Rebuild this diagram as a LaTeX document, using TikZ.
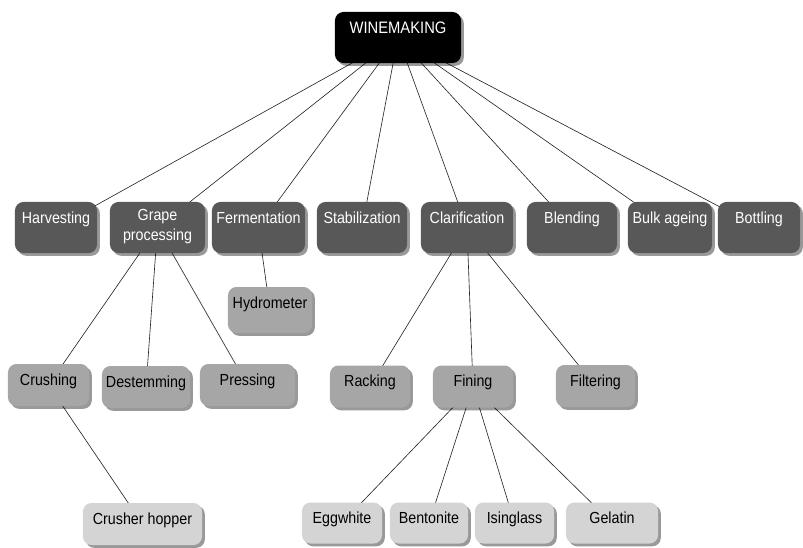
\documentclass[tikz,border=0pt]{standalone}
\usepackage{fontspec}
\setmainfont[FakeStretch=0.89]{Liberation Sans}
\usepackage{xcolor}
\usepackage{tikz}
\usetikzlibrary{shadows, backgrounds}

\definecolor{stagegray}{HTML}{585858}
\definecolor{stepgray}{HTML}{A6A6A6}
\definecolor{agentgray}{HTML}{D4D4D4}

\begin{document}
\begin{tikzpicture}[
    x=0.025cm, y=-0.025cm,
    every node/.style={align=center, font=\fontsize{11.4}{14.2}\selectfont},
    box/.style={rectangle, rounded corners=6pt, inner xsep=2pt, inner ysep=0pt,
        text height=0.525cm,
        drop shadow={shadow xshift=0.07cm, shadow yshift=-0.07cm, fill=black, opacity=0.4}},
    top/.style={box, fill=black, text=white, minimum width=3.15cm, text depth=0.75cm,
        font=\fontsize{11.8}{14.2}\selectfont},
    stage/.style={box, fill=stagegray, text=white, text depth=0.75cm},
    stepbox/.style={box, fill=stepgray, text=black, text depth=0.525cm},
    agent/.style={box, fill=agentgray, text=black, text depth=0.5cm},
    link/.style={draw=black!85, line width=0.45pt}
]
\useasboundingbox (0,0) rectangle (803,547);

% root
\node[top] (wine) at (398,37.5) {WINEMAKING};

% stages
\node[stage, minimum width=2.05cm]  (harv)  at (56,227.5)  {Harvesting};
\node[stage, minimum width=2.375cm, text height=0.95cm, text depth=0.325cm]
                                     (grape) at (157.5,227.5) {Grape\\processing};
\node[stage, minimum width=2.325cm] (ferm)  at (258.5,227.5) {Fermentation};
\node[stage, minimum width=2.25cm]  (stab)  at (362,227.5) {Stabilization};
\node[stage, minimum width=2.3cm]   (clar)  at (467,227.5) {Clarification};
\node[stage, minimum width=2.25cm]  (blend) at (572,227.5) {Blending};
\node[stage, minimum width=2.1cm]   (bulk)  at (670,227.5) {Bulk ageing};
\node[stage, minimum width=2.05cm]  (bott)  at (759,227.5) {Bottling};

% steps
\node[stepbox, minimum width=2.1cm, text depth=0.625cm] (hydro) at (270,310) {Hydrometer};
\node[stepbox, minimum width=2.025cm] (crush) at (48.5,385)  {Crushing};
\node[stepbox, minimum width=2.2cm]   (destem) at (146,387)  {Destemming};
\node[stepbox, minimum width=2.375cm] (press) at (247.5,385) {Pressing};
\node[stepbox, minimum width=2.0cm]   (rack)  at (370,386.5) {Racking};
\node[stepbox, minimum width=2.0cm]   (fine)  at (473,386.5) {Fining};
\node[stepbox, minimum width=1.975cm] (filt)  at (595.5,386) {Filtering};

% agents
\node[agent, minimum width=2.975cm, text depth=0.525cm] (hopper) at (142.5,524) {Crusher hopper};
\node[agent, minimum width=2.0cm]   (egg)   at (342,523)   {Eggwhite};
\node[agent, minimum width=1.95cm]  (bento) at (429,523)   {Bentonite};
\node[agent, minimum width=1.975cm] (ising) at (514.5,523) {Isinglass};
\node[agent, minimum width=2.3cm]   (gela)  at (612,523)   {Gelatin};

\begin{scope}[on background layer]
\foreach \s in {harv,grape,ferm,stab,clar,blend,bulk,bott}
    \draw[link] (wine.center) -- (\s.center);
\foreach \s in {crush,destem,press}
    \draw[link] (grape.center) -- (\s.center);
\draw[link] (ferm.center) -- (hydro.center);
\draw[link] (crush.center) -- (hopper.center);
\foreach \s in {rack,fine,filt}
    \draw[link] (clar.center) -- (\s.center);
\foreach \s in {egg,bento,ising,gela}
    \draw[link] (fine.center) -- (\s.center);
\end{scope}
\end{tikzpicture}
\end{document}
